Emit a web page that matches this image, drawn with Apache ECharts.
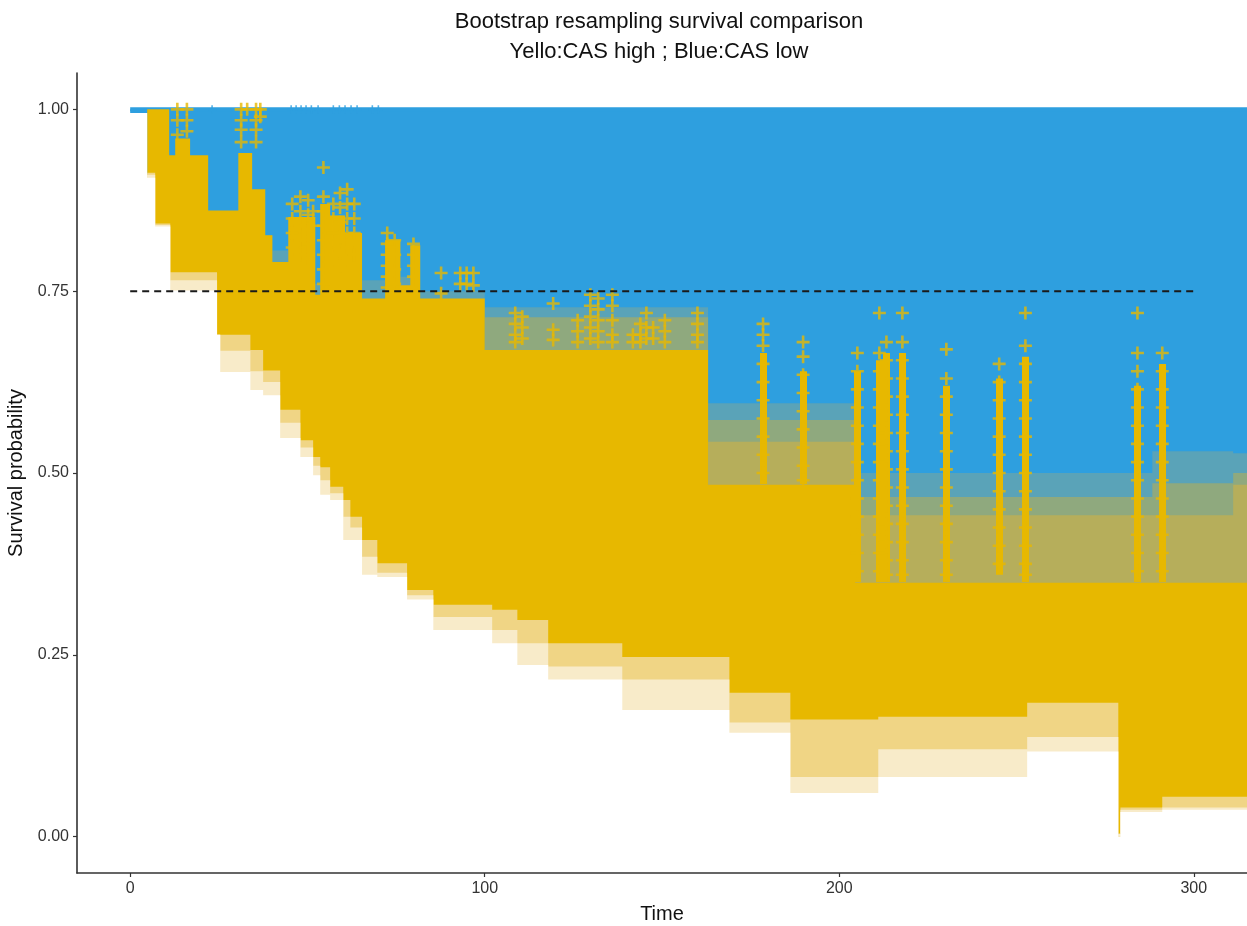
<!DOCTYPE html>
<html><head><meta charset="utf-8">
<script src="https://cdn.jsdelivr.net/npm/echarts@6/dist/echarts.min.js"></script>
<style>html,body{margin:0;padding:0;background:#fff}#c{width:1247px;height:926px}</style>
</head><body><div id="c"></div>
<script>
// ---- data (time, survival) ----
const xTicks = [0, 100, 200, 300];
const yTicks = [0, 0.25, 0.5, 0.75, 1];

// CAS low (blue) band upper edge
const blueTop = [[0, 1], [315, 1]];

// CAS high (yellow) envelopes, step functions [time, survival]
const mixTop = [[38.1,0.827],[40.1,0.806],[44.6,0.852],[52.2,0.76],[53.6,0.87],[56.4,0.854],[60.6,0.83],[65.4,0.765],[71.9,0.82],[76.2,0.77],[79.0,0.813],[81.8,0.75],[100,0.728],[163.0,0.596],[204.5,0.5],[288.3,0.53],[311.1,0.527],[315,0.527]];
const greenTop = [[100,0.714],[163.0,0.573],[204.5,0.467],[288.3,0.486],[311.1,0.5],[315,0.5]];
const oliveTop = [[163.0,0.543],[204.5,0.442],[311.1,0.484],[315,0.484]];
const coreTop = [[4.8,1.0],[11.0,0.937],[12.7,0.96],[16.9,0.937],[22.0,0.861],[30.5,0.94],[34.4,0.89],[38.1,0.827],[40.1,0.79],[44.6,0.852],[52.2,0.745],[53.6,0.87],[56.4,0.854],[60.6,0.83],[65.4,0.74],[71.9,0.82],[76.2,0.758],[79.0,0.813],[81.8,0.74],[100,0.669],[163.0,0.484],[204.5,0.349],[315,0.349]];
const coreBottom = [[4.8,0.913],[7.05,0.843],[11.3,0.776],[24.5,0.69],[33.9,0.669],[37.5,0.641],[42.3,0.587],[48.0,0.545],[51.6,0.522],[53.6,0.508],[56.4,0.481],[60.1,0.463],[62.1,0.44],[65.4,0.408],[69.7,0.376],[78.1,0.339],[85.5,0.319],[102.1,0.312],[109.2,0.298],[117.9,0.266],[138.8,0.247],[169.0,0.198],[186.2,0.161],[211.0,0.165],[253.0,0.184],[278.7,0.0],[279.3,0.04],[291.1,0.055],[315,0.055]];
const midBottom = [[4.8,0.91],[7.05,0.841],[11.3,0.765],[24.5,0.69],[25.4,0.668],[33.9,0.64],[37.5,0.625],[42.3,0.569],[48.0,0.535],[51.6,0.51],[53.6,0.49],[56.4,0.472],[60.1,0.44],[62.1,0.425],[65.4,0.385],[69.7,0.363],[78.1,0.332],[85.5,0.302],[102.1,0.284],[109.2,0.266],[117.9,0.234],[138.8,0.216],[169.0,0.157],[186.2,0.082],[211.0,0.12],[253.0,0.137],[278.7,0.0],[279.3,0.037],[291.1,0.04],[315,0.04]];
const lightBottom = [[-2,0.995],[4.8,0.906],[7.05,0.839],[11.3,0.751],[24.5,0.69],[25.4,0.639],[33.9,0.614],[37.5,0.607],[42.3,0.548],[48.0,0.522],[51.6,0.497],[53.6,0.47],[56.4,0.463],[60.1,0.408],[65.4,0.36],[69.7,0.357],[78.1,0.326],[85.5,0.284],[102.1,0.266],[109.2,0.236],[117.9,0.216],[138.8,0.174],[169.0,0.143],[186.2,0.06],[211.0,0.082],[253.0,0.117],[278.7,0.0],[279.3,0.034],[291.1,0.037],[315,0.037]];

// censor marks: [time, [survival values]]
const censorYellow = [
 [13.3,[1.0,0.985,0.965]],[16.0,[1.0,0.985,0.97]],
 [31.3,[1.0,0.985,0.972,0.955]],[33.0,[1.0]],[35.5,[1.0,0.985,0.972,0.955]],[36.7,[1.0,0.99]],
 [45.7,[0.87,0.85,0.83,0.81]],[48.0,[0.88,0.86,0.84,0.82,0.80]],[50.2,[0.875,0.855,0.835,0.815,0.795]],[51.6,[0.86,0.84]],
 [54.5,[0.92,0.88,0.86,0.84,0.82,0.80,0.78,0.76]],[57.3,[0.87,0.85,0.83,0.81]],[59.2,[0.885,0.865,0.845,0.825,0.805,0.785]],
 [61.2,[0.89,0.87,0.85,0.83,0.81]],[63.2,[0.87,0.85,0.83,0.80]],
 [72.5,[0.83,0.815,0.80,0.785,0.77,0.755]],[74.6,[0.82,0.80,0.78,0.76]],[79.9,[0.815,0.80,0.785,0.77,0.755]],
 [87.7,[0.775,0.747]],[93.1,[0.775,0.76]],[94.9,[0.775,0.76]],[96.8,[0.775,0.758]],
 [108.6,[0.72,0.705,0.69,0.68]],[110.6,[0.715,0.70,0.685]],[119.3,[0.733,0.697,0.683]],[126.2,[0.71,0.695,0.68]],
 [129.8,[0.745,0.73,0.715,0.70,0.685]],[132.0,[0.74,0.725,0.71,0.695,0.68]],[136.0,[0.745,0.73,0.71,0.69,0.68]],
 [141.8,[0.69,0.68]],[143.9,[0.705,0.69,0.68]],[145.6,[0.72,0.70,0.685]],[147.5,[0.70,0.685]],[150.8,[0.71,0.695,0.68]],
 [160.0,[0.72,0.705,0.69,0.68]],
 [178.5,[0.705,0.69,0.675,0.65,0.625,0.60,0.575,0.55,0.525,0.50]],
 [189.8,[0.68,0.66,0.635,0.61,0.585,0.56,0.535,0.51,0.49]],
 [205.1,[0.665,0.64,0.615,0.59,0.565,0.54,0.515,0.49,0.465,0.44,0.415,0.39,0.365]],
 [211.3,[0.72,0.665,0.64,0.615,0.59,0.565,0.54,0.515,0.49,0.465,0.44,0.415,0.39,0.365]],
 [213.3,[0.68,0.655,0.63,0.605,0.58,0.555,0.53,0.505,0.48,0.455,0.43,0.405,0.38,0.36]],
 [217.8,[0.72,0.68,0.655,0.63,0.605,0.58,0.555,0.53,0.505,0.48,0.455,0.43,0.405,0.38,0.36]],
 [230.2,[0.67,0.63,0.605,0.58,0.555,0.53,0.505,0.48,0.455,0.43,0.405,0.38,0.36]],
 [245.1,[0.65,0.625,0.60,0.575,0.55,0.525,0.50,0.475,0.45,0.425,0.40,0.375]],
 [252.5,[0.72,0.675,0.65,0.625,0.60,0.575,0.55,0.525,0.50,0.475,0.45,0.425,0.40,0.375,0.36]],
 [284.1,[0.72,0.665,0.64,0.615,0.59,0.565,0.54,0.515,0.49,0.465,0.44,0.415,0.39,0.365]],
 [291.1,[0.665,0.64,0.615,0.59,0.565,0.54,0.515,0.49,0.465,0.44,0.415,0.39,0.365]]
];
// dense censor columns: [time, low, high]
const censorColumns = [[178.5,0.485,0.665],[189.8,0.485,0.64],[205.1,0.35,0.64],[211.3,0.35,0.655],[213.3,0.35,0.665],[217.8,0.35,0.665],[230.2,0.35,0.62],[245.1,0.36,0.63],[252.5,0.35,0.66],[284.1,0.35,0.62],[291.1,0.35,0.65]];
const censorBlueTimes = [23.1,45.4,46.8,48.2,49.6,51.1,53.0,57.3,59.0,60.6,62.3,64.0,68.3,70.0];
const refLine = [[0, 0.75], [300, 0.75]];

// ---- chart ----
const FONT = 'Liberation Sans';
const PLUS = 'path://M4,0h2v4h4v2h-4v4h-2v-4h-4v-2h4z';
function area(data, color, z, origin, extra) {
  return Object.assign({
    type: 'line', step: 'end', data: data, symbol: 'none', silent: true, z: z,
    lineStyle: { width: 0, opacity: 0 },
    areaStyle: { color: color, opacity: 1, origin: origin }
  }, extra || {});
}
const yellowPts = [];
censorYellow.forEach(([t, ss]) => ss.forEach(s => yellowPts.push([t, s])));
const FILL_BASE = 0.004;

const chart = echarts.init(document.getElementById('c'), null, { renderer: 'canvas' });
chart.setOption({
  animation: false,
  backgroundColor: '#ffffff',
  title: {
    text: 'Bootstrap resampling survival comparison\nYello:CAS high ; Blue:CAS low',
    left: 654, top: 2, textAlign: 'center',
    textStyle: { fontFamily: FONT, fontSize: 22, fontWeight: 'normal', color: '#111', lineHeight: 30, align: 'center' }
  },
  grid: { left: 77, right: 0, top: 73, bottom: 53, outerBoundsMode: 'none', containLabel: false },
  xAxis: {
    type: 'value', min: -15, max: 315,
    name: 'Time', nameLocation: 'middle', nameGap: 31,
    nameTextStyle: { fontFamily: FONT, fontSize: 20, color: '#111' },
    axisLine: { show: true, onZero: false, lineStyle: { color: '#333', width: 1.6 } },
    axisTick: { show: true, length: 4, customValues: xTicks, lineStyle: { color: '#333', width: 1.2 } },
    axisLabel: { customValues: xTicks, fontFamily: FONT, fontSize: 16, color: '#333', margin: 8 },
    splitLine: { show: false }
  },
  yAxis: {
    type: 'value', min: -0.05, max: 1.05,
    name: 'Survival probability', nameLocation: 'middle', nameGap: 42,
    nameTextStyle: { fontFamily: FONT, fontSize: 20, color: '#111' },
    axisLine: { show: true, onZero: false, lineStyle: { color: '#333', width: 1.6 } },
    axisTick: { show: true, length: 4, customValues: yTicks, lineStyle: { color: '#333', width: 1.2 } },
    axisLabel: { customValues: yTicks, fontFamily: FONT, fontSize: 16, color: '#333', margin: 8,
      formatter: v => v.toFixed(2) },
    splitLine: { show: false }
  },
  series: [
    area(blueTop, '#2E9FDF', 1, FILL_BASE, { lineStyle: { width: 4, color: '#2E9FDF', opacity: 1 } }),
    area(mixTop, '#5AA3B8', 2, FILL_BASE),
    area(greenTop, '#8FA97E', 3, FILL_BASE),
    area(oliveTop, '#B6AE5B', 4, FILL_BASE),
    area(coreTop, '#E7B800', 5, FILL_BASE),
    area(coreBottom, '#F0D585', 6, FILL_BASE),
    area(midBottom, '#F8EBC9', 7, FILL_BASE),
    area(lightBottom, '#FFFFFF', 8, 0),
    {
      type: 'scatter', data: censorBlueTimes.map(t => [t, 1.0]), symbol: PLUS, symbolSize: 8,
      itemStyle: { color: '#2E9FDF' }, silent: true, z: 9
    },
    {
      type: 'lines', coordinateSystem: 'cartesian2d', silent: true, z: 10,
      data: censorColumns.map(([t, lo, hi]) => ({ coords: [[t, lo], [t, hi]] })),
      lineStyle: { color: '#E7B800', width: 7, opacity: 1, cap: 'butt' }
    },
    {
      type: 'scatter', data: yellowPts, symbol: PLUS, symbolSize: 13,
      itemStyle: { color: '#E7B800' }, silent: true, z: 11
    },
    {
      type: 'line', data: refLine, symbol: 'none', silent: true, z: 12,
      lineStyle: { color: '#1a1a1a', width: 2, type: [7, 5] }
    }
  ]
});
</script>
</body></html>
